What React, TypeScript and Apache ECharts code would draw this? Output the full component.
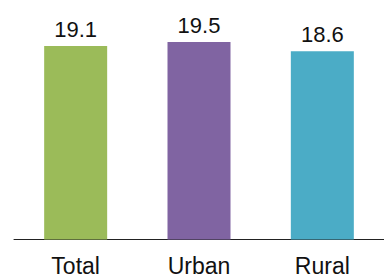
import React, { useEffect, useRef } from "react";
import * as echarts from "echarts";

const categories = ["Total", "Urban", "Rural"];
const values = [19.1, 19.5, 18.6];
const colors = ["#9BBB59", "#8064A2", "#4BACC6"];

export default function App() {
  const ref = useRef<HTMLDivElement>(null);
  useEffect(() => {
    const chart = echarts.init(ref.current!, null, { renderer: "svg" });
    chart.setOption({
      animation: false,
      grid: { left: 14, top: 37, right: -5, bottom: 38.5, containLabel: false },
      xAxis: {
        type: "category",
        data: categories,
        axisLine: { lineStyle: { color: "#222", width: 1 } },
        axisTick: { show: false },
        axisLabel: { fontFamily: "Liberation Sans, Arial", fontSize: 23, color: "#111", margin: 15 },
      },
      yAxis: { type: "value", min: 0, max: 20, show: false, splitLine: { show: false } },
      series: [
        {
          type: "bar",
          barWidth: 63,
          data: values.map((v, i) => ({ value: v, itemStyle: { color: colors[i] } })),
          label: {
            show: true,
            position: "top",
            distance: 6,
            fontFamily: "Liberation Sans, Arial",
            fontSize: 22,
            color: "#111",
          },
        },
      ],
    });
    return () => chart.dispose();
  }, []);
  return <div ref={ref} style={{ width: 384, height: 278, position: "absolute", left: 0, top: 0 }} />;
}
